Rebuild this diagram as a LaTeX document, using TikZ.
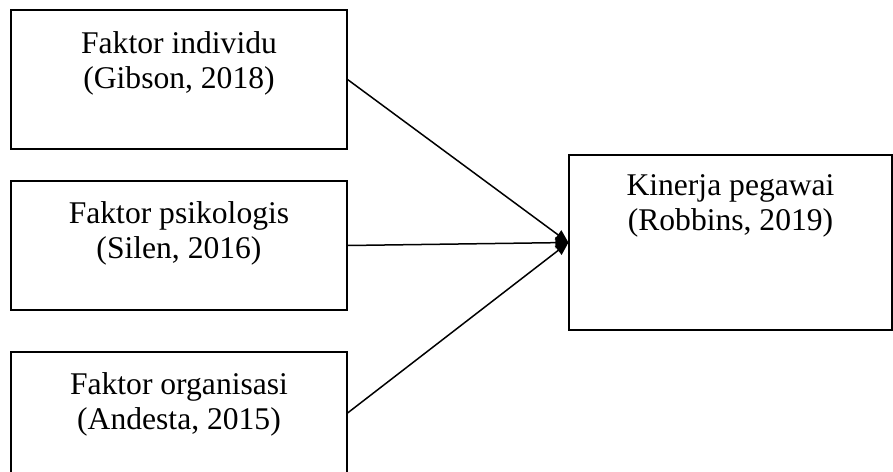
\documentclass[tikz,border=0pt]{standalone}
\usepackage{fontspec}
\setmainfont{Liberation Serif}
\usetikzlibrary{arrows.meta}
\begin{document}
\begin{tikzpicture}[x=0.5pt,y=-0.5pt,
  box/.style={draw=black, line width=0.55pt, inner sep=0pt, fill=white},
  lbl/.style={anchor=north, inner sep=0pt, align=center, font=\fontsize{15.8}{17.5}\selectfont},
  conn/.style={line width=0.75pt, -{Triangle[length=6.5pt,width=5.5pt]}}]
\useasboundingbox (0,0) rectangle (893,471);
\fill[white] (0,0) rectangle (893,471);
\node[box, minimum width=168pt, minimum height=69.5pt] (b1) at (179,79.5) {};
\node[box, minimum width=168pt, minimum height=64.5pt] (b2) at (179,245.5) {};
\node[box, minimum width=168pt, minimum height=61pt] (b3) at (179,413) {};
\node[box, minimum width=161.5pt, minimum height=87.5pt] (r) at (730.5,242.5) {};
\node[lbl] (t1) at (179,31) {Faktor individu\\(Gibson, 2018)};
\node[lbl] (t2) at (179,201) {Faktor psikologis\\(Silen, 2016)};
\node[lbl] (t3) at (179,372) {Faktor organisasi\\(Andesta, 2015)};
\node[lbl] (tr) at (730.5,174) {Kinerja pegawai\\(Robbins, 2019)};
\draw[conn] (b1.east) -- (r.west);
\draw[conn] (b2.east) -- (r.west);
\draw[conn] (b3.east) -- (r.west);
\end{tikzpicture}
\end{document}
